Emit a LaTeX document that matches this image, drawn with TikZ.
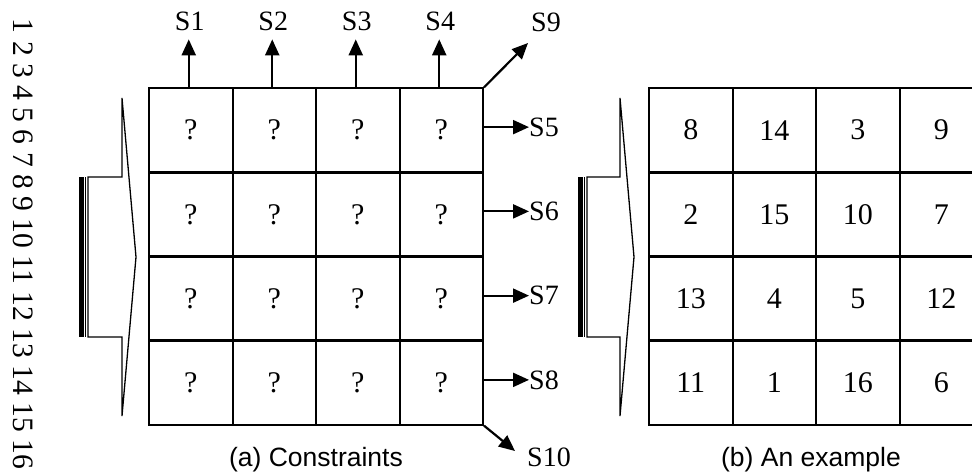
\documentclass[tikz,border=0pt]{standalone}
\usepackage{fontspec}
\setmainfont{Liberation Serif}
\newfontfamily\capfont{Liberation Sans}
\usetikzlibrary{arrows.meta,calc}
\tikzset{
  cell/.style={draw, line width=2pt, minimum size=83.5pt, inner sep=0pt, font=\fontsize{30}{30}\selectfont},
  slab/.style={inner sep=0pt, font=\fontsize{28}{28}\selectfont},
  arr/.style={line width=2.2pt, -{Triangle[length=16pt,width=14pt]}},
  blockarrow/.style={line width=1.3pt, line join=miter},
  captext/.style={font=\capfont\fontsize{26.5}{26.5}\selectfont},
}
\begin{document}
\begin{tikzpicture}[x=1pt,y=-1pt]
\useasboundingbox (0,0) rectangle (972,474);
\clip (0,0) rectangle (972,474);
% line numbers
\node[rotate=-90, inner sep=0pt, font=\fontsize{29.6}{29.6}\selectfont] (ln) at (23,244) {1 2 3 4 5 6 7 8 9 10 11 12 13 14 15 16};
% grid (a)
\foreach \r in {1,...,4}{
  \foreach \c in {1,...,4}{
    \node[cell] (a-\r-\c) at ({149+83.5*(\c-0.5)},{88+84.25*(\r-0.5)}) {?};
  }
}
% grid (b)
\foreach \r/\vals in {1/{8,14,3,9},2/{2,15,10,7},3/{13,4,5,12},4/{11,1,16,6}}{
  \foreach \v [count=\c] in \vals {
    \node[cell] (b-\r-\c) at ({649+83.5*(\c-0.5)},{88+84.25*(\r-0.5)}) {\v};
  }
}
% top arrows
\foreach \c in {1,...,4}{
  \coordinate (t\c) at ($(a-1-\c.north)+(-2,-48)$);
  \node[slab] (s\c) at ($(a-1-\c.north)+(-1,-66)$) {S\c};
  \draw[arr] ([xshift=-2pt]a-1-\c.north) -- (t\c);
}
% right arrows
\foreach \r [evaluate=\r as \n using int(\r+4)] in {1,...,4}{
  \coordinate (rt\r) at ($(a-\r-4.east)+(45,-3)$);
  \node[slab, anchor=west] (s\n) at (rt\r) {S\n};
  \draw[arr] ([yshift=3pt]a-\r-4.east) -- (rt\r);
}
% diagonal arrows
\coordinate (t9) at (528,43);
\node[slab] (s9) at (546,22) {S9};
\draw[arr] (a-1-4.north east) -- (t9);
\coordinate (t10) at (515,451);
\node[slab] (s10) at (549,457) {S10};
\draw[arr] (a-4-4.south east) -- (t10);
% block arrow (a)
\fill (79,177) rectangle (83.5,337);
\draw[line width=1pt] (85.5,177) -- (85.5,337);
\draw[blockarrow] (88,177) -- (122,177) -- (122,98) -- (136,257) -- (122,416) -- (122,337) -- (88,337) -- cycle;
% block arrow (b)
\fill (578,177) rectangle (582.5,337);
\draw[line width=1pt] (584.5,177) -- (584.5,337);
\draw[blockarrow] (587,177) -- (620,177) -- (620,98) -- (634,257) -- (620,416) -- (620,337) -- (587,337) -- cycle;
% captions
\node[captext] (capa) at (316,460) {(a) Constraints};
\node[captext] (capb) at (811,460) {(b) An example};
\end{tikzpicture}
\end{document}
